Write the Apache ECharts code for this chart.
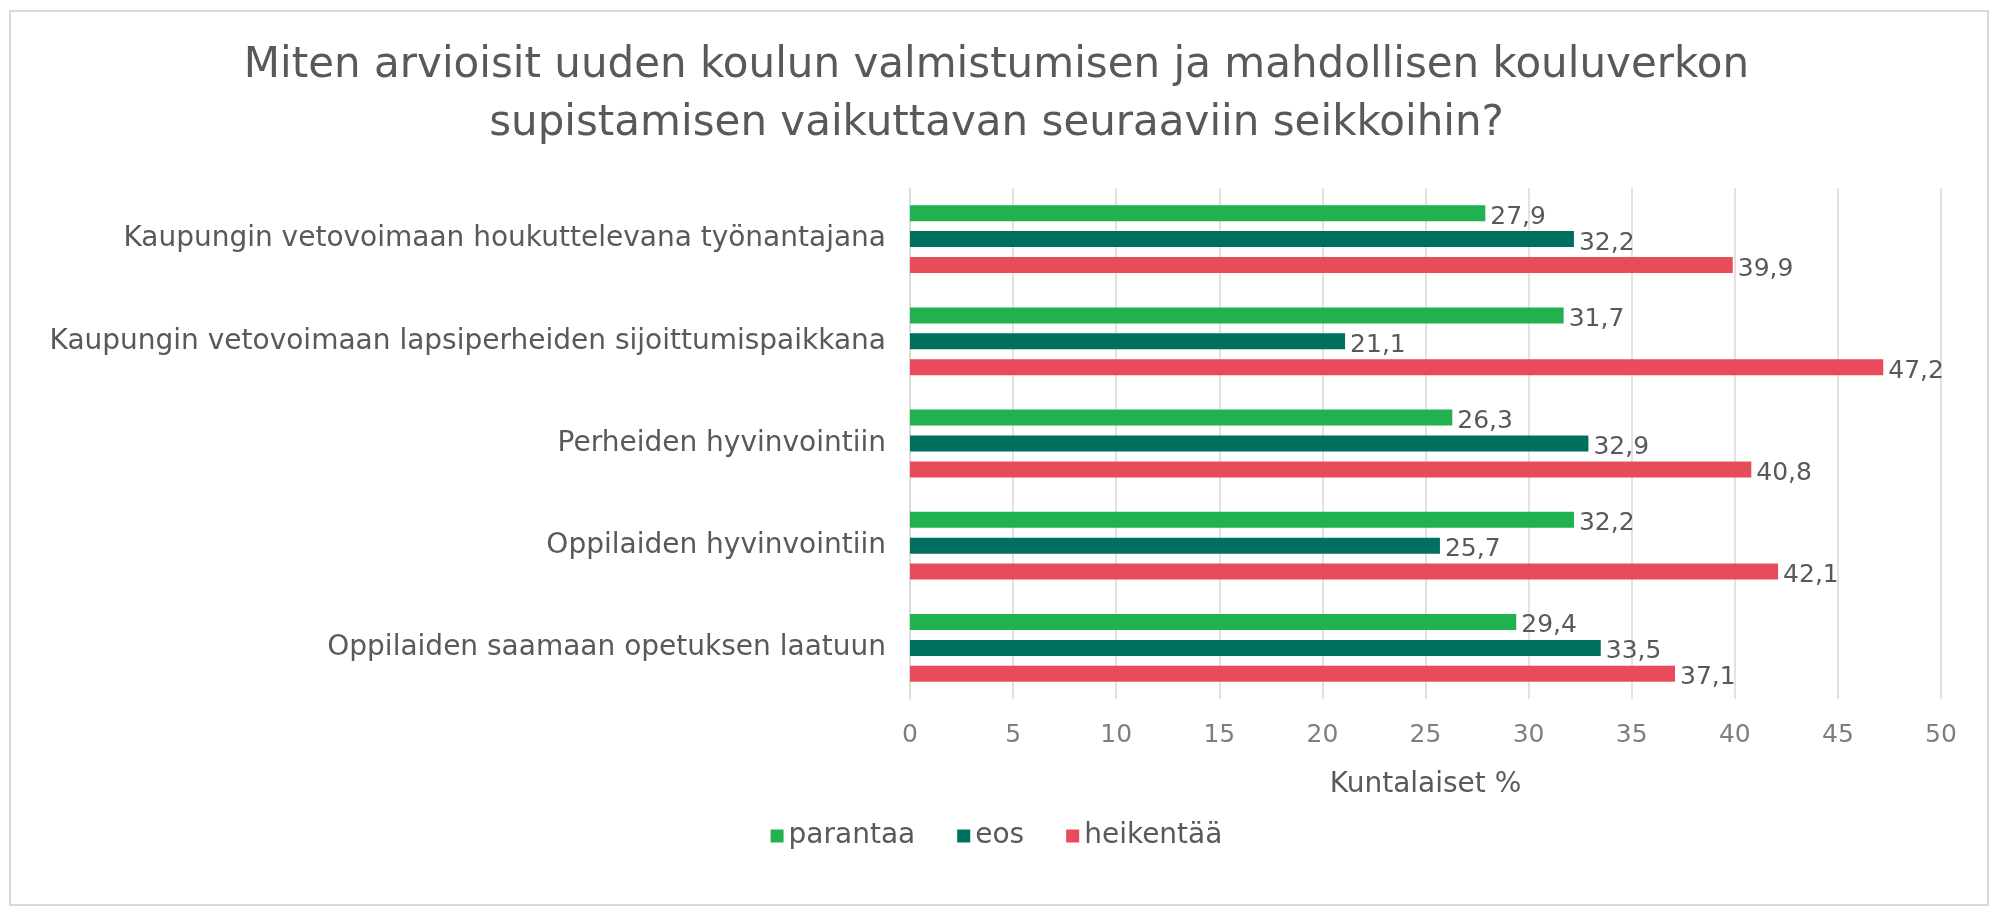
<!DOCTYPE html>
<html>
<head>
<meta charset="utf-8">
<script src="https://cdn.jsdelivr.net/npm/echarts@6/dist/echarts.min.js"></script>
<style>
  html, body { margin: 0; padding: 0; background: #fff; }
  #chart { width: 1993px; height: 913px; }
</style>
</head>
<body>
<div id="chart"></div>
<script>
// categories listed bottom-to-top for the category y axis
const categories = [
  'Oppilaiden saamaan opetuksen laatuun',
  'Oppilaiden hyvinvointiin',
  'Perheiden hyvinvointiin',
  'Kaupungin vetovoimaan lapsiperheiden sijoittumispaikkana',
  'Kaupungin vetovoimaan houkuttelevana työnantajana'
];
const parantaa = [29.4, 32.2, 26.3, 31.7, 27.9];
const eos = [33.5, 25.7, 32.9, 21.1, 32.2];
const heikentaa = [37.1, 42.1, 40.8, 47.2, 39.9];
const titleLines = [
  'Miten arvioisit uuden koulun valmistumisen ja mahdollisen kouluverkon',
  'supistamisen vaikuttavan seuraaviin seikkoihin?'
];

const font = 'DejaVu Sans';
const grey = '#595959';

const chart = echarts.init(document.getElementById('chart'));

const labelOpt = {
  show: true,
  position: 'right',
  distance: 5,
  offset: [0, 4],
  color: grey,
  fontFamily: font,
  fontSize: 25,
  formatter: p => String(p.value).replace('.', ',')
};

const mkSeries = (name, data, color) => ({
  name: name,
  type: 'bar',
  data: data,
  barWidth: 16,
  barGap: '62%',
  itemStyle: { color: color },
  label: labelOpt,
  emphasis: { disabled: true }
});

const titleStyle = {
  color: grey,
  fontFamily: font,
  fontSize: 42,
  fontWeight: 'normal',
  lineHeight: 50
};

chart.setOption({
  animation: false,
  title: titleLines.map((t, i) => ({
    text: t,
    left: 'center',
    top: 41 + i * 58,
    padding: 0,
    textStyle: titleStyle
  })),
  graphic: [{
    type: 'rect',
    shape: { x: 10, y: 11, width: 1978, height: 894 },
    style: { fill: 'none', stroke: '#d9d9d9', lineWidth: 2 },
    silent: true
  }],
  legend: {
    bottom: 58,
    left: 'center',
    itemWidth: 13,
    itemHeight: 13,
    itemGap: 42,
    icon: 'rect',
    textStyle: { color: grey, fontFamily: font, fontSize: 28 },
    data: ['parantaa', 'eos', 'heikentää']
  },
  grid: {
    left: 910,
    right: 52,
    top: 188,
    bottom: 214,
    containLabel: false
  },
  xAxis: {
    type: 'value',
    min: 0,
    max: 50,
    interval: 5,
    name: 'Kuntalaiset %',
    nameLocation: 'middle',
    nameGap: 72,
    nameTextStyle: { color: grey, fontFamily: font, fontSize: 28 },
    axisLine: { show: false },
    axisTick: { show: false },
    axisLabel: { color: '#7f7f7f', fontFamily: font, fontSize: 25, margin: 24 },
    splitLine: { show: true, lineStyle: { color: '#d9d9d9', width: 1.5 } }
  },
  yAxis: {
    type: 'category',
    data: categories,
    axisLine: { show: true, lineStyle: { color: '#d9d9d9', width: 1.5 } },
    axisTick: { show: false },
    axisLabel: { color: grey, fontFamily: font, fontSize: 28, margin: 24 }
  },
  series: [
    mkSeries('parantaa', parantaa, '#21b14f'),
    mkSeries('eos', eos, '#00705e'),
    mkSeries('heikentää', heikentaa, '#e84c5a')
  ]
});

window.addEventListener('resize', () => chart.resize());
</script>
</body>
</html>
